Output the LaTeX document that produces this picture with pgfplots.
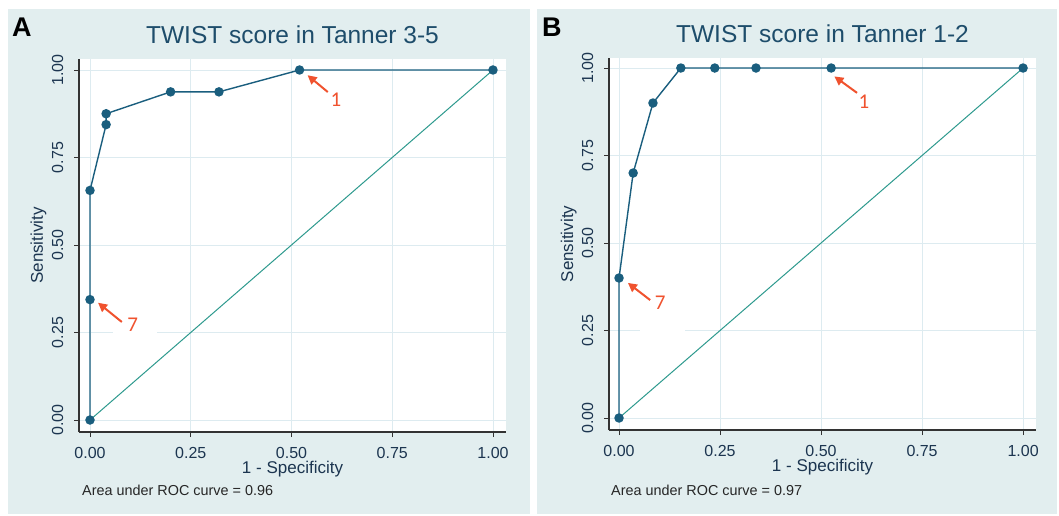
\documentclass[border=0pt]{standalone}
\usepackage{pgfplots}
\pgfplotsset{compat=1.18}
\usepackage{fontspec}
\setmainfont{Liberation Sans}
\newfontfamily\numfont{Carlito}
\usetikzlibrary{arrows.meta}

\definecolor{panelbg}{HTML}{E2EEEF}
\definecolor{curvec}{HTML}{1A5E7E}
\definecolor{diagc}{HTML}{2E9A8E}
\definecolor{gridc}{HTML}{DDEBF0}
\definecolor{arrowc}{HTML}{F0522E}
\definecolor{tickc}{HTML}{1C3550}
\definecolor{titlec}{HTML}{1E4D6B}

\tikzset{
  ann/.style={arrowc, line width=2pt, -{Triangle[length=9pt,width=9pt]}},
  annlab/.style={text=arrowc, font=\numfont\fontsize{21}{23}\selectfont},
}

\pgfplotsset{
  roc/.style={
    scale only axis,
    width=427pt, height=373pt,
    axis x line*=bottom, axis y line*=left,
    axis line style={-, line width=1.1pt, black!80},
    axis background/.style={fill=white},
    tick align=outside, major tick length=5pt,
    tick style={line width=0.9pt, black!80},
    xtick={0,0.25,0.5,0.75,1}, ytick={0,0.25,0.5,0.75,1},
    grid=major, grid style={gridc, line width=0.9pt},
    /pgf/number format/fixed, /pgf/number format/fixed zerofill,
    /pgf/number format/precision=2,
    /pgf/number format/assume math mode=true,
    ticklabel style={font=\fontsize{16}{18}\selectfont, text=tickc},
    xticklabel style={anchor=base},
    yticklabel style={rotate=90, anchor=base},
    xticklabel shift=21pt,
    yticklabel shift=11pt,
    label style={font=\fontsize{17}{19}\selectfont, text=tickc},
    xlabel style={at={([yshift=-41pt]axis description cs:0.5,0)}, anchor=base},
    ylabel style={at={([xshift=-36pt]axis description cs:0,0.5)}, anchor=base, rotate=0},
    xlabel={1 - Specificity}, ylabel={Sensitivity},
    title style={at={([yshift=9pt]axis description cs:0.5,1)}, anchor=base,
      font=\fontsize{24.5}{27}\selectfont, text=titlec},
    clip=false,
  },
  curve/.style={curvec, line width=1.4pt, mark=*, mark size=4pt,
    mark options={fill=curvec, draw=curvec}},
  diag/.style={diagc, line width=1pt},
}

\begin{document}
\begin{tikzpicture}
\path (0pt,0pt) rectangle (1059pt,515pt);
\fill[panelbg] (8pt,1pt) rectangle (530pt,506pt);
\fill[panelbg] (537pt,1pt) rectangle (1057pt,506pt);
\node[anchor=base west, inner sep=0pt, font=\fontsize{27}{30}\selectfont\bfseries] at (12pt,478pt) {A};
\node[anchor=base west, inner sep=0pt, font=\fontsize{27}{30}\selectfont\bfseries] at (542pt,478pt) {B};
\node[anchor=base west, inner sep=0pt, font=\fontsize{14.4}{16}\selectfont, text=black!85] at (82pt,20pt) {Area under ROC curve = 0.96};
\node[anchor=base west, inner sep=0pt, font=\fontsize{14.4}{16}\selectfont, text=black!85] at (611pt,20pt) {Area under ROC curve = 0.97};

% Panel A
\begin{axis}[roc, at={(79pt,83pt)}, anchor=south west,
  xmin=-0.0273, xmax=1.0323, ymin=-0.0343, ymax=1.0314,
  title={TWIST score in Tanner 3-5}]
  \addplot[diag] coordinates {(0,0) (1,1)};
  \addplot[curve] coordinates {
    (0,0) (0,0.344) (0,0.656) (0.04,0.844) (0.04,0.875)
    (0.20,0.9375) (0.32,0.9375) (0.52,1) (1,1)};
  \fill[white] (axis cs:0.057,0.243) rectangle (axis cs:0.166,0.257);
  \draw[ann] (axis cs:0.59,0.937) -- (axis cs:0.54,0.985);
  \node[annlab] at (axis cs:0.61,0.915) {1};
  \draw[ann] (axis cs:0.079,0.28) -- (axis cs:0.02,0.335);
  \node[annlab] at (axis cs:0.106,0.272) {7};
\end{axis}

% Panel B
\begin{axis}[roc, at={(609pt,85pt)}, anchor=south west, height=372pt,
  xmin=-0.0248, xmax=1.032, ymin=-0.0343, ymax=1.0286,
  title={TWIST score in Tanner 1-2}]
  \addplot[diag] coordinates {(0,0) (1,1)};
  \addplot[curve] coordinates {
    (0,0) (0,0.40) (0.035,0.70) (0.084,0.90) (0.153,1)
    (0.237,1) (0.339,1) (0.525,1) (1,1)};
  \fill[white] (axis cs:0.052,0.243) rectangle (axis cs:0.163,0.257);
  \draw[ann] (axis cs:0.077,0.337) -- (axis cs:0.022,0.386);
  \node[annlab] at (axis cs:0.102,0.33) {7};
  \draw[ann] (axis cs:0.589,0.929) -- (axis cs:0.533,0.976);
  \node[annlab] at (axis cs:0.606,0.905) {1};
\end{axis}
\end{tikzpicture}
\end{document}
